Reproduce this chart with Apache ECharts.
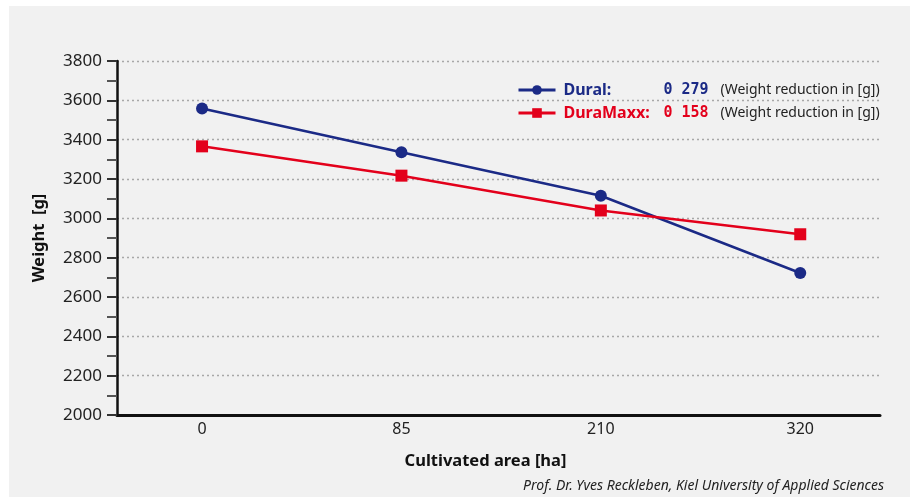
<!DOCTYPE html>
<html>
<head>
<meta charset="utf-8">
<script src="https://cdn.jsdelivr.net/npm/echarts@6/dist/echarts.min.js"></script>
<style>
html,body{margin:0;padding:0;background:#fff;}
#c{width:917px;height:501px;}
</style>
</head>
<body>
<div id="c"></div>
<script>
var categories = ['0', '85', '210', '320'];
var seriesNames = ['Dural', 'DuraMaxx'];
var duralValues = [3558, 3336, 3115, 2722];
var duraMaxxValues = [3366, 3217, 3040, 2919];
var reductions = ['279', '158'];
var yTicks = [2000, 2200, 2400, 2600, 2800, 3000, 3200, 3400, 3600, 3800];
var colors = ['#1b2a86', '#e3001b'];

function toPoints(vals) { return vals.map(function (v, i) { return [i, v]; }); }

var FONT = 'Noto Sans';
var chart = echarts.init(document.getElementById('c'));
var base = { lineHeight: 16, verticalAlign: 'middle', height: 16 };
function tok(o) { return Object.assign({}, base, o); }
var rich = {
  s: tok({ width: 3 }),
  n0: tok({ color: colors[0], fontWeight: 'bold', fontSize: 16, fontFamily: FONT, width: 100 }),
  n1: tok({ color: colors[1], fontWeight: 'bold', fontSize: 16, fontFamily: FONT, width: 100 }),
  v0: tok({ color: colors[0], fontWeight: 'bold', fontSize: 15, fontFamily: 'DejaVu Sans Mono', width: 57 }),
  v1: tok({ color: colors[1], fontWeight: 'bold', fontSize: 15, fontFamily: 'DejaVu Sans Mono', width: 57 }),
  r: tok({ color: '#222', fontSize: 14, fontFamily: FONT })
};
chart.setOption({
  backgroundColor: '#fff',
  animation: false,
  graphic: [
    { type: 'rect', z: -100, shape: { x: 9, y: 6, width: 901, height: 491 }, style: { fill: '#f1f1f1' } },
    { type: 'text', right: 33, top: 479, style: { text: 'Prof. Dr. Yves Reckleben, Kiel University of Applied Sciences', font: 'italic 14px "Noto Sans"', fill: '#222' } }
  ],
  grid: { left: 117, right: 37, top: 61, bottom: 86 },
  legend: {
    left: 512, top: 77, orient: 'vertical',
    itemWidth: 37, itemHeight: 12, itemGap: 7,
    lineStyle: { width: 3 },
    data: seriesNames,
    formatter: function (name) {
      var i = seriesNames.indexOf(name);
      return '{s|}{n' + i + '|' + name + ':}{v' + i + '|0 ' + reductions[i] + '}{r|(Weight reduction in [g])}';
    },
    textStyle: { rich: rich }
  },
  xAxis: {
    type: 'value', min: -0.4265, max: 3.4,
    name: 'Cultivated area [ha]', nameLocation: 'middle', nameGap: 38,
    nameTextStyle: { fontFamily: FONT, fontWeight: 'bold', fontSize: 16.5, color: '#111', padding: [0, 26, 0, 0] },
    axisLine: { show: true, onZero: false, lineStyle: { color: '#111', width: 3 } },
    axisTick: { show: false },
    splitLine: { show: false },
    axisLabel: {
      customValues: [0, 1, 2, 3], margin: 6,
      formatter: function (v) { return categories[Math.round(v)]; },
      fontFamily: FONT, fontSize: 16, color: '#222'
    }
  },
  yAxis: {
    type: 'value', min: yTicks[0], max: yTicks[yTicks.length - 1], interval: 200,
    name: 'Weight  [g]', nameLocation: 'middle', nameGap: 69, nameRotate: 90,
    nameTextStyle: { fontFamily: FONT, fontWeight: 'bold', fontSize: 16.5, color: '#111' },
    axisLine: { show: true, onZero: false, lineStyle: { color: '#111', width: 2.5 } },
    axisTick: { show: true, length: 10, lineStyle: { color: '#333', width: 2 } },
    minorTick: { show: true, splitNumber: 2, length: 10, lineStyle: { color: '#555', width: 2 } },
    splitLine: { show: true, lineStyle: { color: '#a8a8a8', width: 1.3, type: [2, 3] } },
    axisLabel: { margin: 15, fontFamily: FONT, fontSize: 17, color: '#222', formatter: function (v) { return String(v); } }
  },
  series: [
    { name: seriesNames[0], type: 'line', data: toPoints(duralValues), symbol: 'circle', symbolSize: 12,
      lineStyle: { color: colors[0], width: 2.5 }, itemStyle: { color: colors[0] } },
    { name: seriesNames[1], type: 'line', data: toPoints(duraMaxxValues), symbol: 'rect', symbolSize: 12,
      lineStyle: { color: colors[1], width: 2.5 }, itemStyle: { color: colors[1] } }
  ]
});
</script>
</body>
</html>
